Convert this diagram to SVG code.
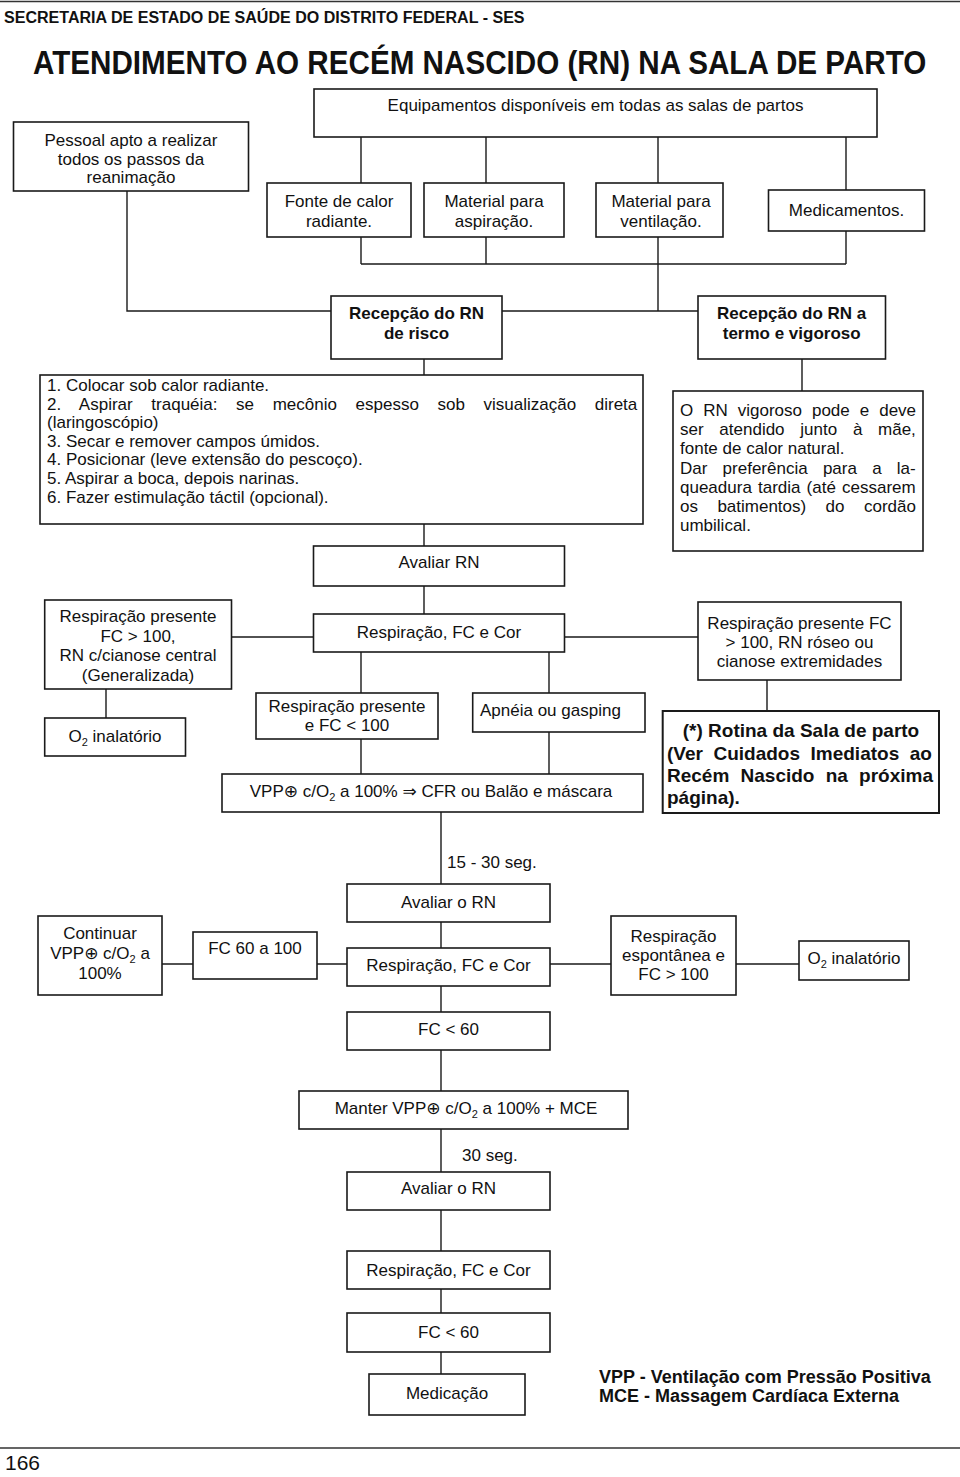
<svg xmlns="http://www.w3.org/2000/svg" width="960" height="1477" viewBox="0 0 960 1477">
<style>
.box{fill:#fff;stroke:#1a1a1a;stroke-width:1.6}
.ln{fill:none;stroke:#1a1a1a;stroke-width:1.4}
.rule{fill:none;stroke:#333;stroke-width:1.6}
text{font-family:"Liberation Sans",Arial,"DejaVu Sans",sans-serif;font-size:17px;fill:#111}
.c{text-anchor:middle}
.b{font-weight:bold}
.s{font-size:11px}
</style>
<rect width="960" height="1477" fill="#fff"/>
<path class="rule" d="M0 1.5H960M0 1448H960"/>
<text x="0" y="0" class="b" transform="translate(4 23) scale(0.945 1)">SECRETARIA DE ESTADO DE SAÚDE DO DISTRITO FEDERAL - SES</text>
<text x="0" y="0" class="b" style="font-size:33px" transform="translate(33 74) scale(0.898 1)">ATENDIMENTO AO RECÉM NASCIDO (RN) NA SALA DE PARTO</text>

<g id="connectors">
<path class="ln" d="M361 137V183M486 137V183M658 137V183M846 137V190"/>
<path class="ln" d="M361 237V264M486 237V264M846 231V264M361 264H846M658 237V311"/>
<path class="ln" d="M127 191V311H331M502 311H698"/>
<path class="ln" d="M424 359V375M802 359V391M424 524V546M424 586V614"/>
<path class="ln" d="M231.5 637H313.5M564.6 637H698M106 689V718"/>
<path class="ln" d="M361 652V693M549 652V693M361 739V774M549 732V774M767 680V711"/>
<path class="ln" d="M441 812V884M441 922V948"/>
<path class="ln" d="M162 964H193M317 964H347M550 964H611M736 964H799"/>
<path class="ln" d="M441 986V1012M441 1050V1091M441 1129V1172M441 1210V1251M441 1289V1313M441 1352V1374"/>
</g>

<g id="equipamentos">
<rect class="box" x="314" y="89" width="563" height="48"/>
<text x="595.5" y="111" class="c">Equipamentos disponíveis em todas as salas de partos</text>
</g>
<g id="pessoal">
<rect class="box" x="13.5" y="122" width="235" height="69"/>
<text x="131" y="146" class="c">Pessoal apto a realizar</text>
<text x="131" y="164.5" class="c">todos os passos da</text>
<text x="131" y="183" class="c">reanimação</text>
</g>
<g id="fonte">
<rect class="box" x="267" y="183" width="144" height="54"/>
<text x="339" y="207" class="c">Fonte de calor</text>
<text x="339" y="227" class="c">radiante.</text>
</g>
<g id="aspiracao">
<rect class="box" x="424" y="183" width="140" height="54"/>
<text x="494" y="207" class="c">Material para</text>
<text x="494" y="227" class="c">aspiração.</text>
</g>
<g id="ventilacao">
<rect class="box" x="596" y="183" width="127" height="54"/>
<text x="661" y="207" class="c">Material para</text>
<text x="661" y="227" class="c">ventilação.</text>
</g>
<g id="medicamentos">
<rect class="box" x="768.5" y="190" width="156" height="41"/>
<text x="846.5" y="216" class="c">Medicamentos.</text>
</g>
<g id="recepcao-risco">
<rect class="box" x="331" y="296" width="171" height="63"/>
<text x="416.5" y="319" class="c b">Recepção do RN</text>
<text x="416.5" y="338.5" class="c b">de risco</text>
</g>
<g id="recepcao-termo">
<rect class="box" x="698" y="296" width="187.5" height="63"/>
<text x="791.7" y="319" class="c b">Recepção do RN a</text>
<text x="791.7" y="338.5" class="c b">termo e vigoroso</text>
</g>
<g id="passos">
<rect class="box" x="40" y="375" width="603" height="149"/>
<text x="47" y="390.5">1. Colocar sob calor radiante.</text>
<text x="47" y="409.5" word-spacing="13.9">2. Aspirar traquéia: se mecônio espesso sob visualização direta</text>
<text x="47" y="428">(laringoscópio)</text>
<text x="47" y="446.5">3. Secar e remover campos úmidos.</text>
<text x="47" y="465">4. Posicionar (leve extensão do pescoço).</text>
<text x="47" y="484">5. Aspirar a boca, depois narinas.</text>
<text x="47" y="502.7">6. Fazer estimulação táctil (opcional).</text>
</g>
<g id="vigoroso">
<rect class="box" x="673" y="391" width="250" height="160"/>
<text x="680" y="416" word-spacing="5.25">O RN vigoroso pode e deve</text>
<text x="680" y="435.2" word-spacing="11">ser atendido junto à mãe,</text>
<text x="680" y="454.4">fonte de calor natural.</text>
<text x="680" y="473.6" word-spacing="10.5">Dar preferência para a la-</text>
<text x="680" y="492.8" word-spacing="1.4">queadura tardia (até cessarem</text>
<text x="680" y="512" word-spacing="14.7">os batimentos) do cordão</text>
<text x="680" y="531.2">umbilical.</text>
</g>
<g id="avaliar-rn">
<rect class="box" x="313.5" y="546" width="251" height="40"/>
<text x="439" y="568" class="c">Avaliar RN</text>
</g>
<g id="resp-fc-cor-1">
<rect class="box" x="313.5" y="614" width="251" height="38"/>
<text x="439" y="638" class="c">Respiração, FC e Cor</text>
</g>
<g id="cianose-central">
<rect class="box" x="44.7" y="600" width="186.8" height="89"/>
<text x="138" y="622" class="c">Respiração presente</text>
<text x="138" y="641.5" class="c">FC &gt; 100,</text>
<text x="138" y="661" class="c">RN c/cianose central</text>
<text x="138" y="680.5" class="c">(Generalizada)</text>
</g>
<g id="roseo">
<rect class="box" x="698" y="602" width="203" height="78"/>
<text x="799.5" y="628.5" class="c">Respiração presente FC</text>
<text x="799.5" y="647.5" class="c">&gt; 100, RN róseo ou</text>
<text x="799.5" y="666.5" class="c">cianose extremidades</text>
</g>
<g id="o2-1">
<rect class="box" x="44.7" y="718" width="140.8" height="38"/>
<text x="115" y="742" class="c">O<tspan class="s" dy="4">2</tspan><tspan dy="-4"> inalatório</tspan></text>
</g>
<g id="resp-fc-menor-100">
<rect class="box" x="256" y="693" width="182" height="46"/>
<text x="347" y="712" class="c">Respiração presente</text>
<text x="347" y="730.5" class="c">e FC &lt; 100</text>
</g>
<g id="apneia">
<rect class="box" x="472.7" y="693" width="172.3" height="39"/>
<text x="480" y="716">Apnéia ou gasping</text>
</g>
<g id="vpp">
<rect class="box" x="222" y="774" width="421" height="38"/>
<text x="431" y="796.5" class="c">VPP⊕ c/O<tspan class="s" dy="4">2</tspan><tspan dy="-4"> a 100% ⇒ CFR ou Balão e máscara</tspan></text>
</g>
<g id="rotina">
<rect class="box" x="662.7" y="711" width="276.3" height="102" style="stroke-width:2"/>
<text x="801" y="737" class="c b" style="font-size:19px">(*) Rotina da Sala de parto</text>
<text x="667" y="759.5" class="b" style="font-size:19px" word-spacing="5.25">(Ver Cuidados Imediatos ao</text>
<text x="667" y="782" class="b" style="font-size:19px" word-spacing="5.95">Recém Nascido na próxima</text>
<text x="667" y="803.5" class="b" style="font-size:19px">página).</text>
</g>
<text x="447" y="868">15 - 30 seg.</text>
<g id="avaliar-o-rn-1">
<rect class="box" x="347" y="884" width="203" height="38"/>
<text x="448.5" y="908" class="c">Avaliar o RN</text>
</g>
<g id="resp-fc-cor-2">
<rect class="box" x="347" y="948" width="203" height="38"/>
<text x="448.5" y="971" class="c">Respiração, FC e Cor</text>
</g>
<g id="continuar">
<rect class="box" x="38" y="916" width="124" height="79"/>
<text x="100" y="938.5" class="c">Continuar</text>
<text x="100" y="958.5" class="c">VPP⊕ c/O<tspan class="s" dy="4">2</tspan><tspan dy="-4"> a</tspan></text>
<text x="100" y="978.5" class="c">100%</text>
</g>
<g id="fc-60-100">
<rect class="box" x="193" y="932" width="124" height="47"/>
<text x="255" y="954" class="c">FC 60 a 100</text>
</g>
<g id="resp-espontanea">
<rect class="box" x="611" y="916" width="125" height="79"/>
<text x="673.5" y="942" class="c">Respiração</text>
<text x="673.5" y="961" class="c">espontânea e</text>
<text x="673.5" y="979.5" class="c">FC &gt; 100</text>
</g>
<g id="o2-2">
<rect class="box" x="799" y="941" width="110" height="39"/>
<text x="854" y="964" class="c">O<tspan class="s" dy="4">2</tspan><tspan dy="-4"> inalatório</tspan></text>
</g>
<g id="fc-menor-60-1">
<rect class="box" x="347" y="1012" width="203" height="38"/>
<text x="448.5" y="1035" class="c">FC &lt; 60</text>
</g>
<g id="manter">
<rect class="box" x="299" y="1091" width="329" height="38"/>
<text x="466" y="1114" class="c">Manter VPP⊕ c/O<tspan class="s" dy="4">2</tspan><tspan dy="-4"> a 100% + MCE</tspan></text>
</g>
<text x="462" y="1161">30 seg.</text>
<g id="avaliar-o-rn-2">
<rect class="box" x="347" y="1172" width="203" height="38"/>
<text x="448.5" y="1194" class="c">Avaliar o RN</text>
</g>
<g id="resp-fc-cor-3">
<rect class="box" x="347" y="1251" width="203" height="38"/>
<text x="448.5" y="1276" class="c">Respiração, FC e Cor</text>
</g>
<g id="fc-menor-60-2">
<rect class="box" x="347" y="1313" width="203" height="39"/>
<text x="448.5" y="1337.5" class="c">FC &lt; 60</text>
</g>
<g id="medicacao">
<rect class="box" x="369" y="1374" width="156" height="41"/>
<text x="447" y="1399" class="c">Medicação</text>
</g>
<g id="legenda">
<text x="599" y="1383" class="b" style="font-size:18px">VPP - Ventilação com Pressão Positiva</text>
<text x="599" y="1402" class="b" style="font-size:18px">MCE - Massagem Cardíaca Externa</text>
</g>
<text x="5" y="1470" style="font-size:21px">166</text>
</svg>
